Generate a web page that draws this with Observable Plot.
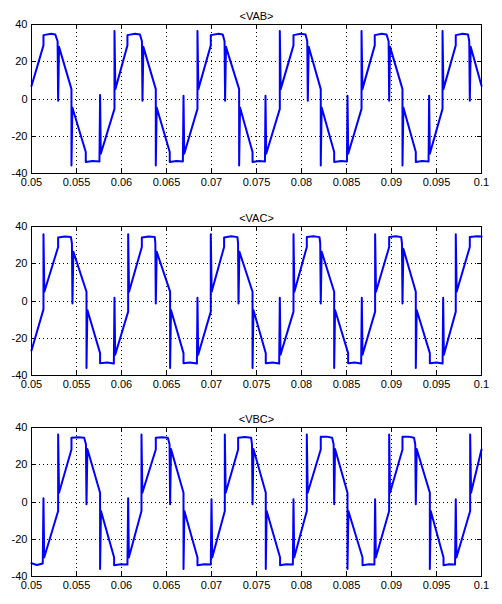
<!DOCTYPE html>
<html>
<head>
<meta charset="utf-8">
<script src="https://cdn.jsdelivr.net/npm/d3@7"></script>
<script src="https://cdn.jsdelivr.net/npm/@observablehq/plot@0.6"></script>
<style>
  html, body { margin: 0; padding: 0; background: white; }
  #charts svg { display: block; }
</style>
</head>
<body>
<div id="charts"></div>
<script>
// ---- Data ----
const titles = ["<VAB>", "<VAC>", "<VBC>"];
const xTicks = [0.05, 0.055, 0.06, 0.065, 0.07, 0.075, 0.08, 0.085, 0.09, 0.095, 0.1];
const xTickLabels = ["0.05", "0.055", "0.06", "0.065", "0.07", "0.075", "0.08", "0.085", "0.09", "0.095", "0.1"];
const yTicks = [-40, -20, 0, 20, 40];
const yTickLabels = ["-40", "-20", "0", "20", "40"];

// [time (s), voltage]
const vab = [
[0.05000, 7.0],[0.05133, 28.8],[0.05133, 34.3],[0.05220, 35.0],[0.05265, 34.6],[0.05290, 31.0],[0.05296, -0.9],[0.05306, 28.0],
[0.05444, 5.3],[0.05444, -35.7],[0.05454, -4.6],[0.05603, -28.5],[0.05603, -33.8],[0.05680, -33.3],[0.05755, -33.5],[0.05762, 2.1],[0.05770, -29.4],
[0.05922, -5.3],[0.05922, 36.5],[0.05932, 5.3],[0.06066, 28.8],[0.06066, 34.3],[0.06150, 35.0],[0.06205, 34.6],[0.06227, 31.0],[0.06233, -0.9],[0.06243, 28.0],
[0.06381, 5.3],[0.06381, -35.7],[0.06391, -4.6],[0.06536, -28.5],[0.06536, -33.8],[0.06610, -33.3],[0.06682, -33.5],[0.06689, 1.8],[0.06697, -29.4],
[0.06844, -5.3],[0.06844, 36.5],[0.06854, 5.3],[0.06992, 28.8],[0.06992, 34.3],[0.07080, 35.0],[0.07125, 34.6],[0.07145, 31.0],[0.07151, -0.9],[0.07161, 28.0],
[0.07307, 5.3],[0.07307, -35.7],[0.07317, -4.6],[0.07456, -28.5],[0.07456, -33.8],[0.07530, -33.3],[0.07594, -33.5],[0.07600, 1.8],[0.07608, -29.4],
[0.07759, -5.3],[0.07759, 36.5],[0.07769, 5.3],[0.07911, 28.8],[0.07911, 34.3],[0.07990, 35.0],[0.08045, 34.6],[0.08064, 31.0],[0.08070, -0.9],[0.08080, 28.0],
[0.08214, 5.3],[0.08214, -35.7],[0.08224, -4.6],[0.08363, -28.5],[0.08363, -33.8],[0.08440, -33.3],[0.08505, -33.5],[0.08511, 1.8],[0.08519, -29.4],
[0.08667, -5.3],[0.08667, 36.5],[0.08677, 5.3],[0.08814, 28.8],[0.08814, 34.3],[0.08890, 35.0],[0.08945, 34.6],[0.08968, 31.0],[0.08974, -0.9],[0.08984, 28.0],
[0.09122, 5.3],[0.09122, -35.7],[0.09132, -4.6],[0.09270, -28.5],[0.09270, -33.8],[0.09340, -33.3],[0.09412, -33.5],[0.09418, 1.8],[0.09426, -29.4],
[0.09567, -5.3],[0.09567, 36.5],[0.09577, 5.3],[0.09714, 28.8],[0.09714, 34.3],[0.09790, 35.0],[0.09850, 34.6],[0.09864, 31.0],[0.09870, -0.9],[0.09880, 28.0],
[0.10000, 7.1]
];

const vac = [
[0.05000, -26.6],[0.05133, -4.5],[0.05133, 35.9],[0.05143, 5.0],[0.05296, 29.0],[0.05296, 34.1],[0.05370, 34.6],[0.05438, 34.3],[0.05449, 31.0],[0.05455, -1.3],[0.05465, 26.5],
[0.05611, 5.0],[0.05611, -36.0],[0.05621, -4.8],[0.05762, -28.0],[0.05762, -33.4],[0.05840, -33.0],[0.05915, -33.6],[0.05922, 1.8],[0.05930, -28.9],
[0.06074, -5.7],[0.06074, 35.9],[0.06084, 5.0],[0.06226, 29.0],[0.06226, 34.1],[0.06300, 34.6],[0.06370, 34.3],[0.06376, 31.0],[0.06381, -1.3],[0.06391, 26.5],
[0.06540, 5.0],[0.06540, -36.0],[0.06550, -4.8],[0.06689, -28.0],[0.06689, -33.4],[0.06760, -33.0],[0.06838, -33.6],[0.06844, 1.8],[0.06852, -28.9],
[0.06992, -5.7],[0.06992, 35.9],[0.07002, 5.0],[0.07140, 29.0],[0.07140, 34.1],[0.07220, 34.8],[0.07288, 34.3],[0.07295, 31.0],[0.07300, -1.3],[0.07310, 26.5],
[0.07456, 5.0],[0.07456, -36.0],[0.07466, -4.8],[0.07603, -28.0],[0.07603, -33.4],[0.07680, -33.0],[0.07752, -33.6],[0.07759, 1.8],[0.07767, -28.9],
[0.07911, -5.7],[0.07911, 35.9],[0.07921, 5.0],[0.08059, 29.0],[0.08059, 34.4],[0.08130, 34.8],[0.08200, 34.3],[0.08208, 31.0],[0.08214, -1.3],[0.08224, 26.5],
[0.08363, 5.0],[0.08363, -36.0],[0.08373, -4.8],[0.08518, -28.0],[0.08518, -33.4],[0.08590, -33.0],[0.08663, -33.6],[0.08670, 1.8],[0.08678, -28.9],
[0.08818, -5.7],[0.08818, 35.9],[0.08828, 5.0],[0.08974, 29.0],[0.08974, 34.4],[0.09050, 34.8],[0.09108, 34.3],[0.09116, 31.0],[0.09122, -1.3],[0.09132, 28.0],
[0.09270, 5.0],[0.09270, -36.0],[0.09280, -4.8],[0.09426, -28.0],[0.09426, -33.4],[0.09500, -33.0],[0.09568, -33.6],[0.09574, 1.8],[0.09582, -28.9],
[0.09714, -5.7],[0.09714, 35.9],[0.09724, 5.0],[0.09870, 29.0],[0.09870, 34.4],[0.09950, 34.8],[0.10000, 34.6]
];

const vbc = [
[0.05000, -32.9],[0.05060, -33.8],[0.05125, -33.0],[0.05133, 2.0],[0.05141, -29.8],
[0.05296, -4.8],[0.05296, 36.2],[0.05306, 5.0],[0.05444, 28.2],[0.05444, 34.5],[0.05520, 34.8],[0.05585, 34.5],[0.05605, 31.0],[0.05611, -1.2],[0.05621, 28.5],
[0.05762, 5.0],[0.05762, -36.0],[0.05772, -4.8],[0.05918, -29.8],[0.05918, -33.9],[0.05990, -33.4],[0.06066, -33.6],[0.06074, 2.0],[0.06082, -29.8],
[0.06222, -4.8],[0.06222, 36.2],[0.06232, 5.0],[0.06381, 28.2],[0.06381, 34.5],[0.06450, 34.8],[0.06515, 34.5],[0.06534, 31.0],[0.06540, -1.2],[0.06550, 28.5],
[0.06689, 5.0],[0.06689, -36.0],[0.06699, -4.8],[0.06844, -29.8],[0.06844, -33.9],[0.06920, -33.4],[0.06992, -33.6],[0.07000, 1.5],[0.07008, -29.8],
[0.07148, -4.8],[0.07148, 36.2],[0.07158, 5.0],[0.07296, 28.2],[0.07296, 34.5],[0.07370, 34.9],[0.07440, 34.5],[0.07450, 31.0],[0.07456, -1.2],[0.07466, 28.5],
[0.07603, 5.0],[0.07603, -36.0],[0.07613, -4.8],[0.07762, -29.8],[0.07762, -33.9],[0.07830, -33.4],[0.07904, -33.6],[0.07911, 1.5],[0.07919, -29.8],
[0.08059, -4.8],[0.08059, 36.2],[0.08069, 5.0],[0.08214, 28.2],[0.08214, 35.0],[0.08280, 35.1],[0.08340, 34.5],[0.08357, 31.0],[0.08363, -1.2],[0.08373, 28.5],
[0.08511, 5.0],[0.08511, -36.0],[0.08521, -4.8],[0.08678, -29.8],[0.08678, -33.9],[0.08750, -33.4],[0.08810, -33.6],[0.08818, 1.5],[0.08826, -29.8],
[0.08974, -4.8],[0.08974, 36.2],[0.08984, 5.0],[0.09122, 28.2],[0.09122, 35.0],[0.09190, 35.1],[0.09250, 34.5],[0.09264, 31.0],[0.09270, -1.2],[0.09280, 28.5],
[0.09426, 5.0],[0.09426, -36.0],[0.09436, -4.8],[0.09578, -29.8],[0.09578, -33.9],[0.09640, -33.4],[0.09706, -33.6],[0.09714, 1.5],[0.09722, -29.8],
[0.09874, -4.8],[0.09874, 36.2],[0.09884, 5.0],[0.10000, 28.2]
];

const series = [vab, vac, vbc];

// ---- Layout ----
const layout = [
  {height: 201, mt: 24, mb: 28},
  {height: 201, mt: 25, mb: 27},
  {height: 202, mt: 25, mb: 28}
];
const W = 502, ML = 31, MR = 21, TICK = 4;

const container = document.getElementById("charts");
series.forEach((data, k) => {
  const L = layout[k];
  const frameH = L.height - L.mt - L.mb;
  const frameW = W - ML - MR;
  const crisp = {shapeRendering: "crispEdges"};
  const chart = Plot.plot({
    width: W,
    height: L.height,
    marginLeft: ML,
    marginRight: MR,
    marginTop: L.mt,
    marginBottom: L.mb,
    style: {
      fontFamily: "'Liberation Sans', Arial, Helvetica, sans-serif",
      fontSize: "11px",
      background: "white",
      color: "black",
      overflow: "visible"
    },
    x: {domain: [0.05, 0.1], label: null},
    y: {domain: [-40, 40], label: null},
    marks: [
      Plot.gridX({ticks: xTicks, stroke: "black", strokeOpacity: 1, strokeDasharray: "1,3", ...crisp}),
      Plot.gridY({ticks: yTicks, stroke: "black", strokeOpacity: 1, strokeDasharray: "1,3", ...crisp}),
      Plot.tickX(xTicks, {x: d => d, insetTop: frameH - TICK, stroke: "black", ...crisp}),
      Plot.tickX(xTicks, {x: d => d, insetBottom: frameH - TICK, stroke: "black", ...crisp}),
      Plot.tickY(yTicks, {y: d => d, insetRight: frameW - TICK, stroke: "black", ...crisp}),
      Plot.tickY(yTicks, {y: d => d, insetLeft: frameW - TICK, stroke: "black", ...crisp}),
      Plot.line(data, {x: d => d[0], y: d => d[1], stroke: "#0000ff", strokeWidth: 2, strokeLinejoin: "round"}),
      Plot.frame({stroke: "black", ...crisp}),
      Plot.axisX({ticks: xTicks, tickSize: 0, tickPadding: 5, label: null,
        tickFormat: d => xTickLabels[xTicks.indexOf(d)]}),
      Plot.axisY({ticks: yTicks, tickSize: 0, tickPadding: 4, label: null,
        tickFormat: d => yTickLabels[yTicks.indexOf(d)]}),
      Plot.text([titles[k]], {frameAnchor: "top", dy: -12, fill: "black"})
    ]
  });
  container.appendChild(chart);
});
</script>
</body>
</html>
